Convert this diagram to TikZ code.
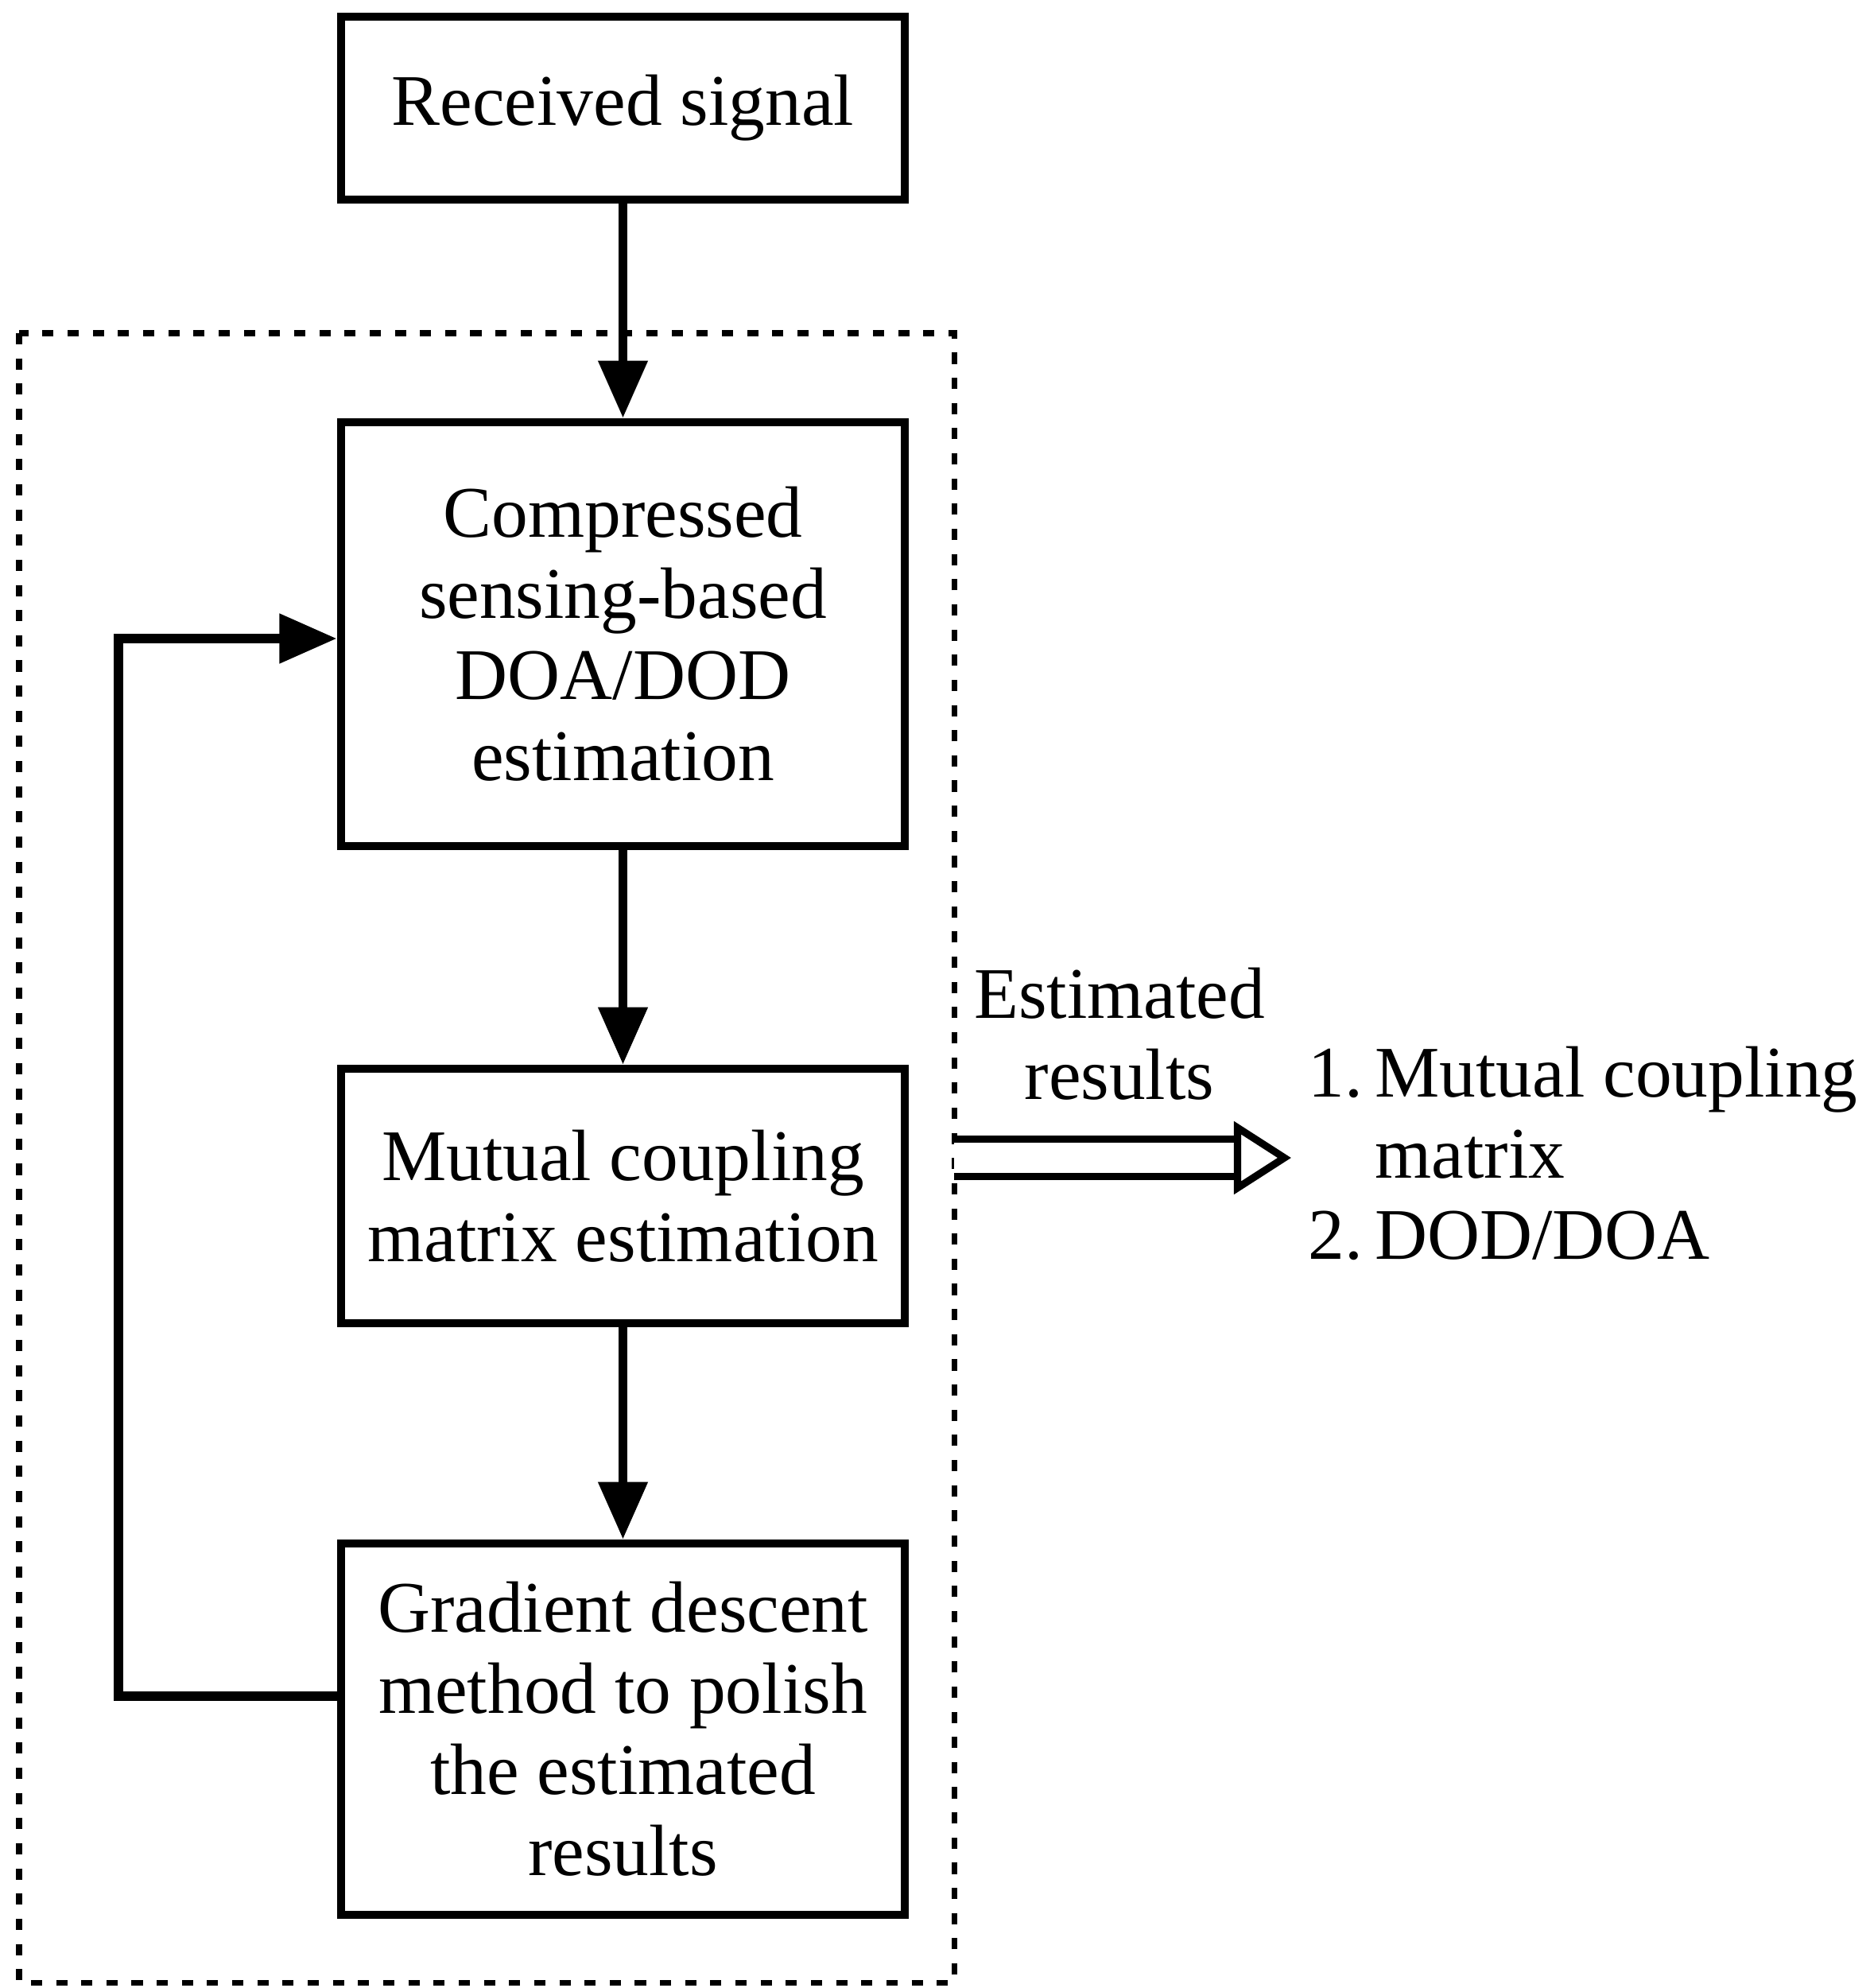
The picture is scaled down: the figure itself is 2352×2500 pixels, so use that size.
\documentclass[tikz,border=0pt]{standalone}
\usepackage{fontspec}
\setmainfont{Liberation Serif}
\usetikzlibrary{arrows.meta}
\begin{document}
\begin{tikzpicture}[x=0.01cm,y=-0.01cm,
  box/.style={draw,line width=3pt,align=center,font=\fontsize{26}{29}\selectfont,inner sep=0pt},
  arr/.style={line width=3.2pt,-{Triangle[length=0.72cm,width=0.6cm]}},
  txt/.style={font=\fontsize{26}{29}\selectfont,inner sep=0pt}]
\useasboundingbox (0,0) rectangle (2352,2500);
\node[box,minimum width=7.09cm,minimum height=2.30cm] (rs) at (783.5,136) {Received signal};
\node[box,minimum width=7.09cm,minimum height=5.33cm] (cs) at (783.5,797.5) {Compressed\\sensing-based\\DOA/DOD\\estimation};
\node[box,minimum width=7.09cm,minimum height=3.20cm] (mc) at (783.5,1504) {Mutual coupling\\matrix estimation};
\node[box,minimum width=7.09cm,minimum height=4.67cm] (gd) at (783.5,2174.5) {Gradient descent\\method to polish\\the estimated\\results};
\draw[line width=2pt,dash pattern=on 4pt off 5pt] (24,419) rectangle (1200,2493);
\coordinate (fa) at (149,2133);
\coordinate (fb) at (149,803);
\draw[arr] (rs) -- (cs);
\draw[arr] (cs) -- (mc);
\draw[arr] (mc) -- (gd);
\draw[arr] (gd.west|-fa) -- (fa) -- (fb) -- (cs.west|-fb);
\coordinate (h1) at (1200,1456);
\coordinate (h2) at (1624,1456);
\draw[line width=2.6pt,-{Triangle[open,length=0.72cm,width=0.9cm]},double distance=0.38cm] (h1) -- (h2);
\node[txt,align=center] (er) at (1408,1300) {Estimated\\results};
\node[txt,align=left,anchor=north west] (ls) at (1645,1315) {1.\,Mutual coupling\\\phantom{1.\,}matrix\\2.\,DOD/DOA};
\end{tikzpicture}
\end{document}
